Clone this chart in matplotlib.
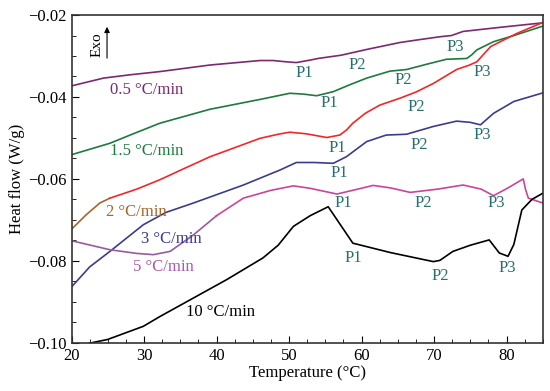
import matplotlib
matplotlib.use("Agg")
import matplotlib.pyplot as plt
from matplotlib.ticker import MultipleLocator

plt.rcParams["font.family"] = ["Liberation Serif", "DejaVu Serif"]
plt.rcParams["mathtext.fontset"] = "stix"

# DSC curves, heat flow (W/g) vs temperature (°C)
t_05 = [20, 24.4, 28.0, 32.2, 39.1, 46, 47.8, 49.5, 51.0, 52.9, 54.0, 57.2, 60.7, 65.3, 67.6, 70.8, 72.4,
        73.2, 74.0, 79.1, 85]
h_05 = [-0.0373, -0.0354, -0.0346, -0.0338, -0.0322, -0.0311, -0.0311, -0.0314, -0.0316, -0.0310, -0.0306,
        -0.0298, -0.0284, -0.0267, -0.0261, -0.0253, -0.0250, -0.0245, -0.0240, -0.0230, -0.0219]

t_15 = [20, 25.3, 28.5, 32.2, 39.1, 46, 50.1, 52.0, 53.8, 56.1, 58.4, 60.7, 63.9, 66.2, 69.0, 71.7, 74.5,
        75.2, 75.9, 78.2, 81.0, 85]
h_15 = [-0.0541, -0.0513, -0.0490, -0.0464, -0.0430, -0.0406, -0.0391, -0.0393, -0.0397, -0.0387, -0.0370,
        -0.0354, -0.0337, -0.0333, -0.0320, -0.0308, -0.0306, -0.0297, -0.0285, -0.0265, -0.0250, -0.0227]

t_2 = [20, 22.0, 23.9, 25.3, 29.0, 32.2, 35.5, 39.1, 46, 48.5, 50.1, 52.4, 55.2, 57.0, 57.9, 58.8, 60.5,
       62.5, 65.3, 67.5, 69.9, 73.1, 74.9, 75.9, 77.8, 81.4, 85]
h_2 = [-0.0723, -0.0688, -0.0659, -0.0647, -0.0625, -0.0602, -0.0575, -0.0546, -0.0501, -0.0491, -0.0486,
       -0.0490, -0.0499, -0.0493, -0.0481, -0.0464, -0.0440, -0.0420, -0.0403, -0.0388, -0.0367, -0.0333,
       -0.0322, -0.0314, -0.0277, -0.0245, -0.0218]

t_3 = [20, 22.5, 25.3, 29.9, 33.0, 36.8, 43.7, 48.8, 51.0, 53.5, 56.1, 57.9, 60.7, 63.4, 66.2, 69.9, 73.1,
       75.0, 76.4, 78.2, 81.0, 85]
h_3 = [-0.0864, -0.0815, -0.0777, -0.0712, -0.0682, -0.0659, -0.0615, -0.0578, -0.0560, -0.0560, -0.0562,
       -0.0546, -0.0509, -0.0493, -0.0491, -0.0472, -0.0459, -0.0462, -0.0468, -0.0440, -0.0411, -0.0390]

t_5 = [20, 25.3, 29.0, 31.3, 33.6, 36.8, 40.0, 43.7, 47.5, 50.6, 52.9, 56.6, 59.0, 61.6, 64.0, 66.7, 70.5,
       74.0, 76.5, 78.2, 80.2, 82.3, 82.6, 83.0, 85]
h_5 = [-0.0751, -0.0773, -0.0782, -0.0785, -0.0777, -0.0737, -0.0690, -0.0647, -0.0628, -0.0617, -0.0623,
       -0.0637, -0.0627, -0.0616, -0.0622, -0.0633, -0.0625, -0.0615, -0.0625, -0.0641, -0.0622, -0.0600,
       -0.0625, -0.0647, -0.0659]

t_10 = [22.0, 25.0, 29.9, 32.2, 36.8, 41.4, 46.4, 48.5, 50.6, 52.9, 55.4, 58.8, 64.0, 69.9, 70.8, 72.6,
        75.0, 77.6, 79.0, 80.2, 81.0, 82.1, 83.5, 85]
h_10 = [-0.1003, -0.0992, -0.0960, -0.0936, -0.0891, -0.0846, -0.0793, -0.0762, -0.0716, -0.0690, -0.0668,
        -0.0757, -0.0780, -0.0802, -0.0799, -0.0777, -0.0762, -0.0749, -0.0781, -0.0789, -0.0760, -0.0676,
        -0.0650, -0.0635]

# curve labels: text, x, y, colour
rate_labels = [
    ("0.5 °C/min", 30.3, -0.0383, "#7a2a6e"),
    ("1.5 °C/min", 30.3, -0.0533, "#1e7a3e"),
    ("2 °C/min", 28.9, -0.0680, "#a8652a"),
    ("3 °C/min", 33.7, -0.0747, "#3c3c8c"),
    ("5 °C/min", 32.7, -0.0814, "#a85aa8"),
    ("10 °C/min", 40.6, -0.0924, "black"),
]

# peak labels: text, x, y
peak_labels = [
    ("P1", 52.1, -0.0342), ("P2", 59.4, -0.0322), ("P3", 72.9, -0.0277),
    ("P1", 55.6, -0.0415), ("P2", 65.7, -0.0359), ("P3", 76.6, -0.0338),
    ("P1", 56.7, -0.0525), ("P2", 67.6, -0.0424),
    ("P1", 56.9, -0.0586), ("P2", 68.0, -0.0517), ("P3", 76.6, -0.0493),
    ("P1", 57.5, -0.0659), ("P2", 68.5, -0.0659), ("P3", 78.6, -0.0659),
    ("P1", 58.9, -0.0793), ("P2", 70.8, -0.0837), ("P3", 80.1, -0.0818),
]

fig = plt.figure(figsize=(5.5, 3.91), dpi=100)
ax = fig.add_axes([0.130, 0.1235, 0.857, 0.838])

lw = 1.2
ax.plot(t_05, h_05, color="#7a2a6e", lw=lw)
ax.plot(t_15, h_15, color="#1e7a3e", lw=lw)
ax.plot(t_2[:4], h_2[:4], color="#a8652a", lw=lw)
ax.plot(t_2[3:], h_2[3:], color="#f02828", lw=lw)
ax.plot(t_3, h_3, color="#3c3c8c", lw=lw)
ax.plot(t_5[:7], h_5[:7], color="#9a5a9e", lw=lw)
ax.plot(t_5[6:], h_5[6:], color="#c8469a", lw=lw)
ax.plot(t_10, h_10, color="black", lw=lw)

for txt, x, y, c in rate_labels:
    ax.text(x, y, txt, color=c, fontsize=12, ha="center", va="center")

for txt, x, y in peak_labels:
    ax.text(x, y, txt, color="#2a6f6f", fontsize=12, ha="center", va="center")

# Exo arrow
ax.annotate("", xy=(24.9, -0.0222), xytext=(24.9, -0.0312),
            arrowprops=dict(arrowstyle="-|>", color="black", lw=0.8, mutation_scale=8))
ax.text(23.5, -0.0272, "Exo", rotation=90, fontsize=11, ha="center", va="center")

ax.set_xlim(20, 85)
ax.set_ylim(-0.10, -0.02)
ax.xaxis.set_major_locator(MultipleLocator(10))
ax.xaxis.set_minor_locator(MultipleLocator(2.5))
ax.yaxis.set_major_locator(MultipleLocator(0.02))
ax.yaxis.set_minor_locator(MultipleLocator(0.005))
ax.yaxis.set_major_formatter(plt.FuncFormatter(lambda v, p: f"{v:.2f}".replace("-", "\u2212")))
ax.tick_params(which="both", direction="in", top=False, right=False, labelsize=12)
ax.tick_params(which="major", length=5)
ax.tick_params(which="minor", length=3)
for s in ax.spines.values():
    s.set_linewidth(1.2)
    s.set_color("#333333")

ax.set_xlabel("Temperature (°C)", fontsize=12, labelpad=1)
ax.set_ylabel("Heat flow (W/g)", fontsize=12, labelpad=2)

fig.savefig("out.png", dpi=100)
